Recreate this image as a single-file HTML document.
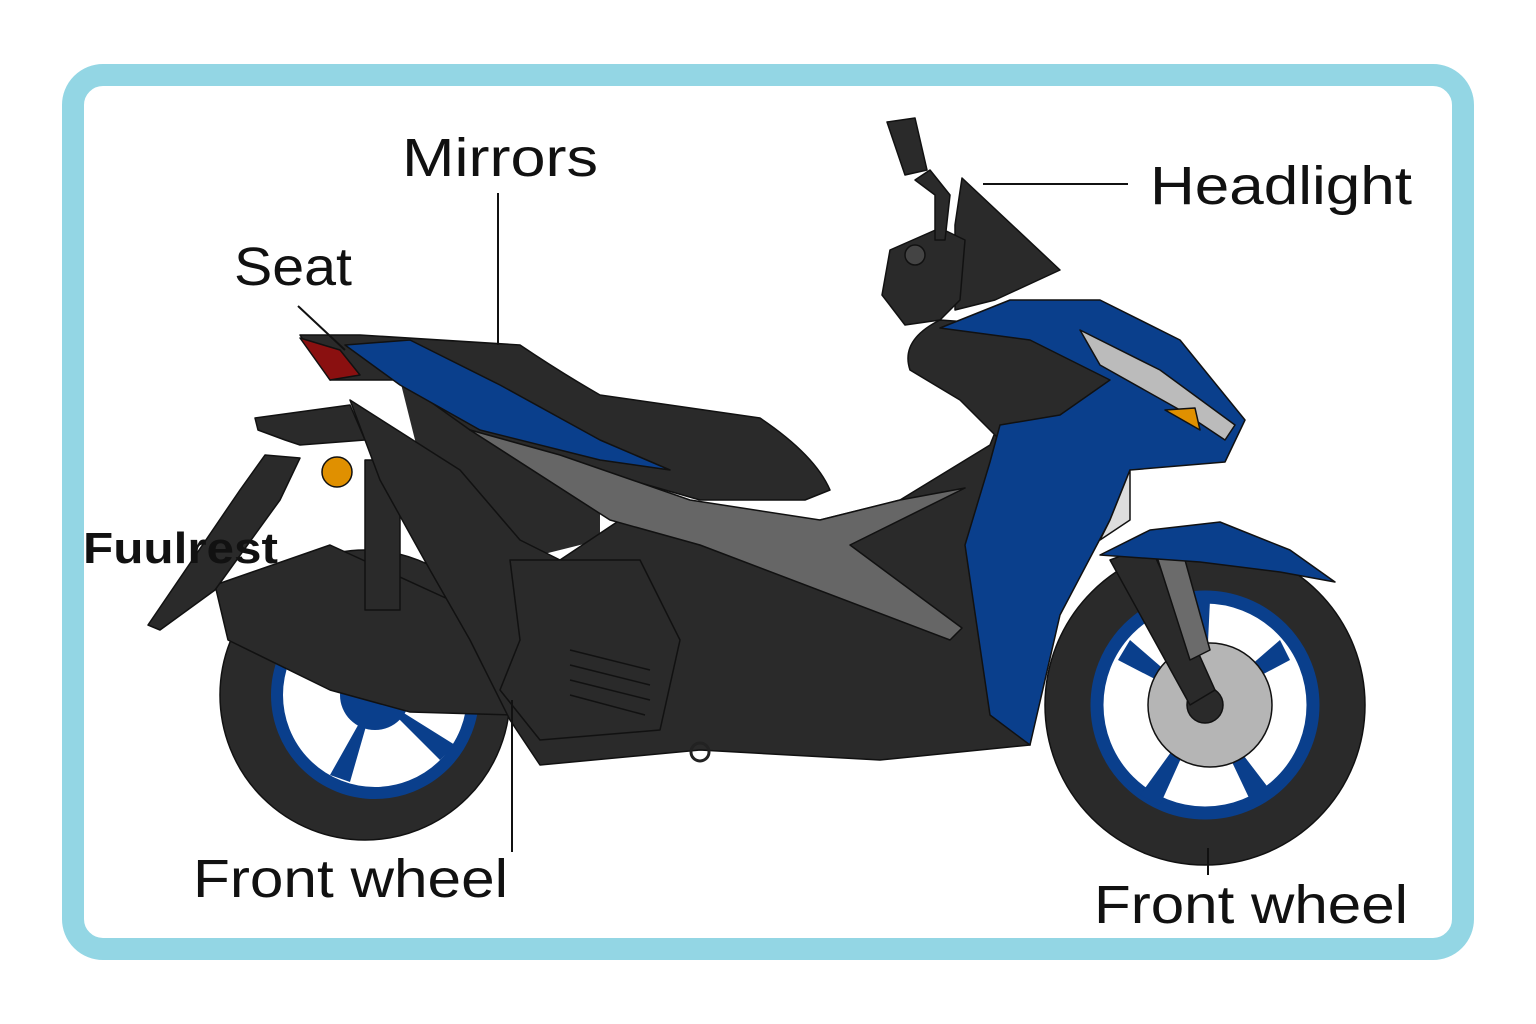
<!DOCTYPE html>
<html><head><meta charset="utf-8"><style>
html,body{margin:0;padding:0;background:#fff;width:1536px;height:1024px;overflow:hidden}
svg{display:block}
text{font-family:"Liberation Sans",sans-serif;fill:#111}
</style></head><body>
<svg width="1536" height="1024" viewBox="0 0 1536 1024">
<rect x="0" y="0" width="1536" height="1024" fill="#fff"/>
<rect x="73" y="75" width="1390" height="874" rx="30" fill="#fff" stroke="#93d6e4" stroke-width="22"/>
<g stroke="#111" stroke-width="1.5" stroke-linejoin="round">
<!-- rear wheel -->
<circle cx="365" cy="695" r="145" fill="#2a2a2a"/>
<circle cx="375" cy="695" r="98" fill="#fff" stroke="#0a3f8c" stroke-width="12"/>
<g fill="#0a3f8c" stroke="none">
<path d="M375,695 L300,650 L290,670 Z"/><path d="M375,695 L440,760 L455,745 Z"/><path d="M375,695 L330,775 L350,782 Z"/><path d="M375,695 L400,600 L380,598 Z"/>
<circle cx="375" cy="695" r="35"/></g>
<!-- front wheel -->
<circle cx="1205" cy="705" r="160" fill="#2a2a2a"/>
<circle cx="1205" cy="705" r="108" fill="#fff" stroke="#0a3f8c" stroke-width="13"/>
<g fill="#0a3f8c" stroke="none">
<path d="M1205,705 L1130,640 L1118,660 Z"/><path d="M1205,705 L1290,660 L1280,640 Z"/><path d="M1205,705 L1250,800 L1270,790 Z"/><path d="M1205,705 L1140,795 L1160,805 Z"/><path d="M1205,705 L1210,600 L1190,600 Z"/></g>
<circle cx="1210" cy="705" r="62" fill="#b5b5b5"/>
<circle cx="1205" cy="705" r="18" fill="#2a2a2a"/>
<!-- fork -->
<path d="M1110,560 L1150,545 L1215,690 L1190,705 Z" fill="#2a2a2a"/>
<path d="M1150,535 L1185,560 L1210,650 L1190,660 Z" fill="#6b6b6b"/>
<!-- exhaust / swingarm -->
<path d="M215,585 L330,545 L450,600 L520,680 L515,715 L410,712 L330,690 L228,640 Z" fill="#2a2a2a"/>
<!-- shock -->
<rect x="365" y="460" width="35" height="150" fill="#2a2a2a"/>
<!-- rear rack & fuulrest bracket -->
<path d="M255,418 L350,405 L365,440 L300,445 L285,440 L258,430 Z" fill="#2a2a2a"/>
<path d="M148,625 L240,490 L265,455 L300,458 L280,500 L215,590 L160,630 Z" fill="#2a2a2a"/>
<circle cx="337" cy="472" r="15" fill="#e09000"/>
<!-- filler under seat -->
<path d="M400,380 L600,460 L600,540 L520,560 L460,520 L420,460 Z" fill="#2a2a2a" stroke="none"/>
<!-- main body lower -->
<path d="M350,400 L460,470 L520,540 L560,560 L620,520 L700,545 L820,520 L900,500 L990,445 L1000,420 L1000,520 L1030,745 L880,760 L700,750 L540,765 L510,720 L470,640 L430,570 L380,480 Z" fill="#2a2a2a"/>
<!-- seat -->
<path d="M300,335 L360,335 L520,345 Q560,372 600,395 L760,418 Q815,455 830,490 L805,500 L700,500 L560,460 L470,430 L400,380 L330,380 Z" fill="#2a2a2a"/>
<path d="M300,338 L340,350 L360,375 L330,380 Z" fill="#8a1010"/>
<!-- blue rear panel -->
<path d="M345,345 L410,340 L500,385 L600,440 L670,470 L600,460 L480,430 L400,385 Z" fill="#0a3f8c"/>
<!-- grey panel -->
<path d="M470,430 L610,520 L700,545 L950,640 L962,628 L850,545 L965,488 L900,500 L820,520 L690,500 L560,455 Z" fill="#666"/>
<!-- engine cover -->
<path d="M510,560 L640,560 L680,640 L660,730 L540,740 L500,690 L520,640 Z" fill="#2a2a2a"/>
<g stroke="#111"><line x1="570" y1="650" x2="650" y2="670"/><line x1="570" y1="665" x2="650" y2="685"/><line x1="570" y1="680" x2="650" y2="700"/><line x1="570" y1="695" x2="645" y2="715"/></g>
<!-- front upper dark -->
<path d="M940,320 Q900,340 910,370 L960,400 L1000,440 L1100,420 L1180,410 L1100,360 L1010,325 Z" fill="#2a2a2a"/>
<!-- blue fairing -->
<path d="M940,328 L1010,300 L1100,300 L1180,340 L1245,420 L1225,462 L1130,470 L1110,520 L1060,615 L1030,745 L990,715 L965,545 L990,462 L1000,425 L1060,415 L1110,380 L1030,340 Z" fill="#0a3f8c"/>
<path d="M1080,330 L1160,370 L1235,425 L1225,440 L1180,410 L1100,365 Z" fill="#bbb"/>
<path d="M1165,410 L1195,408 L1200,430 Z" fill="#e09000"/>
<path d="M1100,540 L1130,520 L1130,470 L1110,520 Z" fill="#ddd"/>
<!-- front fender -->
<path d="M1100,555 L1150,530 L1220,522 L1290,550 L1335,582 L1280,572 L1200,562 Z" fill="#0a3f8c"/>
<!-- windscreen / handlebar -->
<path d="M962,178 L1060,270 L995,300 L955,310 L955,225 Z" fill="#2a2a2a"/>
<path d="M890,250 L940,228 L965,240 L960,300 L940,320 L905,325 L882,295 Z" fill="#2a2a2a"/>
<path d="M930,170 L950,195 L945,240 L935,240 L935,195 L915,180 Z" fill="#2a2a2a"/>
<path d="M887,122 L915,118 L927,170 L905,175 Z" fill="#2a2a2a"/>
<circle cx="915" cy="255" r="10" fill="#444"/>
<!-- kickstand -->
<circle cx="700" cy="752" r="9" fill="none" stroke="#222" stroke-width="3"/>
</g>
<!-- leader lines -->
<g stroke="#111" stroke-width="2">
<line x1="498" y1="193" x2="498" y2="345"/>
<line x1="298" y1="306" x2="345" y2="350"/>
<line x1="983" y1="184" x2="1128" y2="184"/>
<line x1="512" y1="700" x2="512" y2="852"/>
<line x1="1208" y1="848" x2="1208" y2="875"/>
</g>
<text x="402" y="176" font-size="54" textLength="196" lengthAdjust="spacingAndGlyphs">Mirrors</text>
<text x="234" y="285" font-size="54" textLength="118" lengthAdjust="spacingAndGlyphs">Seat</text>
<text x="1150" y="204" font-size="54" textLength="262" lengthAdjust="spacingAndGlyphs">Headlight</text>
<text x="83" y="563" font-size="44" font-weight="bold" textLength="195" lengthAdjust="spacingAndGlyphs">Fuulrest</text>
<text x="193" y="897" font-size="54" textLength="315" lengthAdjust="spacingAndGlyphs">Front wheel</text>
<text x="1094" y="923" font-size="54" textLength="314" lengthAdjust="spacingAndGlyphs">Front wheel</text>
</svg>
</body></html>
